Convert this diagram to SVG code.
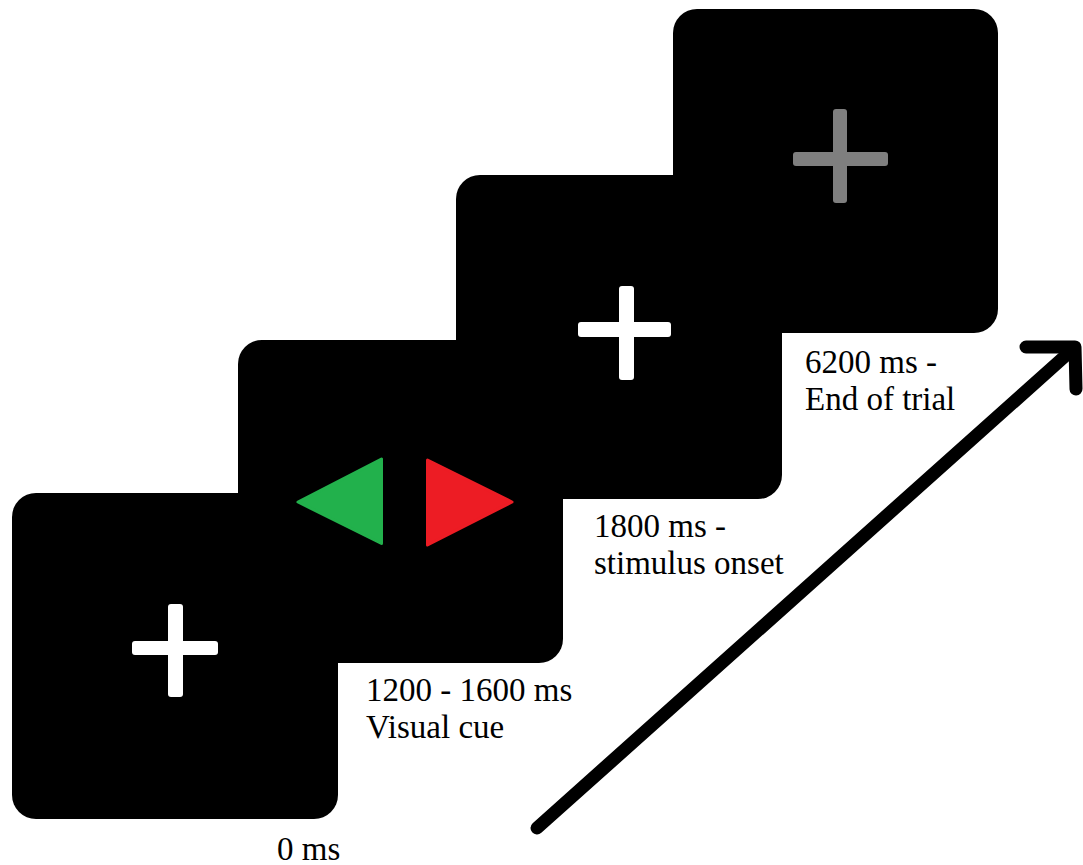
<svg xmlns="http://www.w3.org/2000/svg" width="1083" height="865" viewBox="0 0 1083 865">
  <style>
    .screen { fill: #000000; }
    .cross-w { fill: #FFFFFF; }
    .cross-g { fill: #7F7F7F; }
    .label { font-family: "Liberation Serif", "Times New Roman", serif; font-size: 33px; fill: #000000; }
    .arrow { fill: none; stroke: #000000; stroke-width: 13; stroke-linecap: round; stroke-linejoin: round; }
  </style>
  <rect x="0" y="0" width="1083" height="865" fill="#FFFFFF"/>

  <g id="panel-fixation">
    <rect class="screen" x="12" y="493" width="326" height="326" rx="24" ry="24"/>
    <rect class="cross-w" x="168" y="604" width="15" height="93" rx="3" ry="3"/>
    <rect class="cross-w" x="132" y="641" width="86" height="14" rx="3" ry="3"/>
    <text class="label" x="277" y="860">0 ms</text>
  </g>

  <g id="panel-end">
    <rect class="screen" x="673" y="9" width="325" height="324" rx="24" ry="24"/>
    <rect class="cross-g" x="833" y="109" width="14" height="94" rx="3" ry="3"/>
    <rect class="cross-g" x="793" y="152" width="95" height="14" rx="3" ry="3"/>
    <text class="label" x="805" y="373">6200 ms -</text>
    <text class="label" x="805" y="410">End of trial</text>
  </g>

  <g id="panel-stimulus">
    <rect class="screen" x="456" y="175" width="326" height="324" rx="24" ry="24"/>
    <rect class="cross-w" x="619" y="286" width="15" height="94" rx="3" ry="3"/>
    <rect class="cross-w" x="578" y="322" width="93" height="15" rx="3" ry="3"/>
    <text class="label" x="594" y="537">1800 ms -</text>
    <text class="label" x="594" y="574">stimulus onset</text>
  </g>

  <g id="panel-cue">
    <rect class="screen" x="238" y="340" width="325" height="323" rx="24" ry="24"/>
    <polygon points="298,502 381.5,459 381.5,543.5" fill="#22B14C" stroke="#22B14C" stroke-width="3" stroke-linejoin="round"/>
    <polygon points="427.5,460 512,502 427.5,545" fill="#ED1C24" stroke="#ED1C24" stroke-width="3" stroke-linejoin="round"/>
    <text class="label" x="366" y="701">1200 - 1600 ms</text>
    <text class="label" x="366" y="738">Visual cue</text>
  </g>

  <g id="connectors">
    <line class="arrow" x1="537" y1="828" x2="1073" y2="349"/>
    <polyline class="arrow" points="1026,347 1075,347 1076,389"/>
  </g>
</svg>
